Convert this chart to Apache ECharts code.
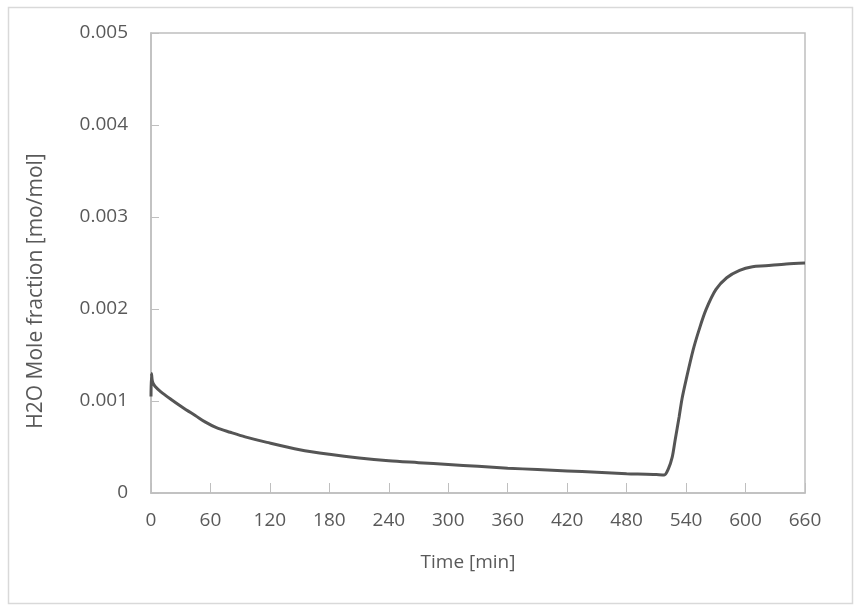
<!DOCTYPE html>
<html>
<head>
<meta charset="utf-8">
<script src="https://cdn.jsdelivr.net/npm/echarts@6/dist/echarts.min.js"></script>
<style>html,body{margin:0;padding:0;background:#fff}#c{width:867px;height:613px}</style>
</head>
<body>
<div id="c"></div>
<script>
const timeMin = [0, 0.5, 1.5, 4, 10, 20, 32, 45, 55, 66, 80, 95, 117, 150, 180, 210, 240, 270, 300, 330, 360, 390, 420, 450, 480, 500, 510, 518, 522, 526, 529, 533, 536, 540, 547, 553, 560, 570, 581, 594, 607, 620, 641, 660];
const h2oFrac = [0.00105, 0.0013, 0.00121, 0.00116, 0.00110, 0.00102, 0.00093, 0.00084, 0.00077, 0.00071, 0.00066, 0.00061, 0.00055, 0.00047, 0.00042, 0.00038, 0.00035, 0.00033, 0.00031, 0.00029, 0.00027, 0.000255, 0.00024, 0.000225, 0.00021, 0.000205, 0.0002, 0.000196, 0.00026, 0.00039, 0.00058, 0.00083, 0.00103, 0.00123, 0.00155, 0.00177, 0.00199, 0.00221, 0.00234, 0.00242, 0.00246, 0.00247, 0.00249, 0.0025];
const xTicks = [0, 60, 120, 180, 240, 300, 360, 420, 480, 540, 600, 660];
const yTicks = [0, 0.001, 0.002, 0.003, 0.004, 0.005];

const font = "'Open Sans', 'Liberation Sans', sans-serif";
const chart = echarts.init(document.getElementById('c'));
chart.setOption({
  animation: false,
  backgroundColor: '#fff',
  grid: { left: 151, right: 62, top: 33, bottom: 120, show: true, borderColor: '#bfbfbf', borderWidth: 1.5, backgroundColor: 'transparent' },
  graphic: [
    { type: 'rect', shape: { x: 8.5, y: 7.5, width: 844, height: 596 }, style: { fill: 'none', stroke: '#d9d9d9', lineWidth: 1.5 }, silent: true },
    { type: 'text', x: 36, y: 291, rotation: Math.PI / 2, style: { text: 'H2O Mole fraction [mo/mol]', font: "21px 'Open Sans', 'Liberation Sans', sans-serif", fill: '#595959', align: 'center', verticalAlign: 'middle' } }
  ],
  xAxis: {
    type: 'value', min: 0, max: 660, interval: 60,
    name: 'Time [min]', nameLocation: 'middle', nameGap: 60,
    nameTextStyle: { color: '#595959', fontSize: 19, fontFamily: font, padding: [0, 20, 0, 0] },
    axisLine: { show: true, lineStyle: { color: '#bfbfbf', width: 1.5 } },
    axisTick: { show: true, inside: true, length: 10, lineStyle: { color: '#bfbfbf' } },
    axisLabel: { color: '#595959', fontSize: 19, fontFamily: font, margin: 18,
      formatter: v => xTicks.includes(v) ? String(v) : '' },
    splitLine: { show: false }
  },
  yAxis: {
    type: 'value', min: 0, max: 0.005, interval: 0.001,
    axisLine: { show: true, lineStyle: { color: '#bfbfbf', width: 1.5 } },
    axisTick: { show: true, inside: true, length: 8, lineStyle: { color: '#bfbfbf' } },
    axisLabel: { color: '#595959', fontSize: 19, fontFamily: font, margin: 23,
      formatter: v => { const t = yTicks.find(k => Math.abs(k - v) < 1e-9); return t === undefined ? '' : (t === 0 ? '0' : t.toFixed(3)); } },
    splitLine: { show: false }
  },
  series: [{
    type: 'line',
    data: timeMin.map((t, i) => [t, h2oFrac[i]]),
    showSymbol: false,
    smooth: 0.3,
    lineStyle: { color: '#555555', width: 3 },
    clip: true
  }]
});
</script>
</body>
</html>
